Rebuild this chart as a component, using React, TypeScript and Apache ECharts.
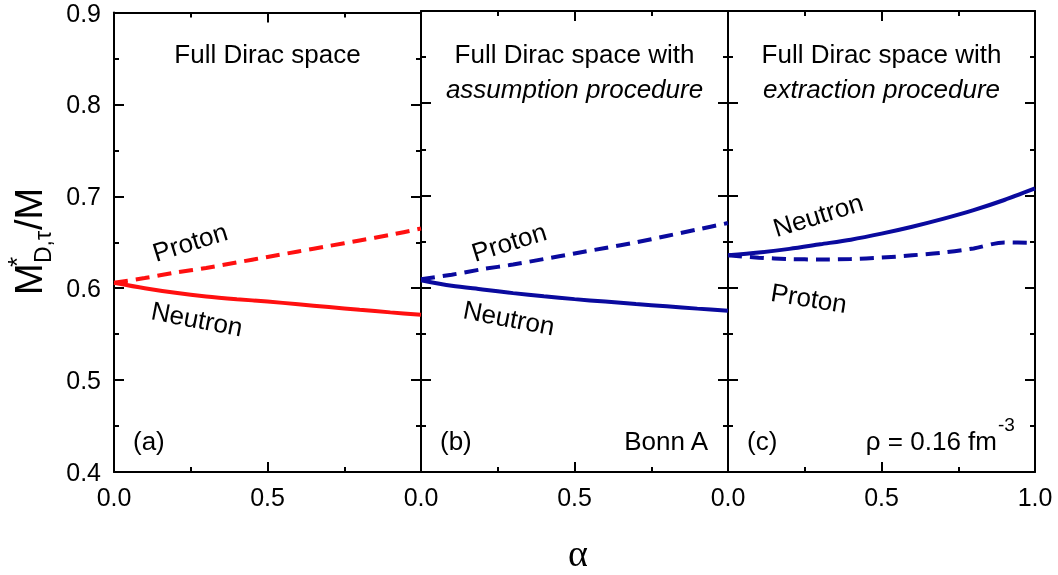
import React, { useEffect, useRef } from 'react';
import * as echarts from 'echarts';

// alpha (asymmetry parameter) sample points
const alpha = [0, 0.1, 0.2, 0.3, 0.4, 0.5, 0.6, 0.7, 0.8, 0.9, 1.0];

// (a) Full Dirac space
const protonA = [0.606, 0.611, 0.617, 0.622, 0.628, 0.634, 0.640, 0.646, 0.652, 0.658, 0.665];
const neutronA = [0.606, 0.600, 0.595, 0.591, 0.588, 0.5855, 0.5825, 0.5795, 0.5765, 0.5737, 0.571];
// (b) assumption procedure
const protonB = [0.609, 0.614, 0.620, 0.625, 0.631, 0.637, 0.643, 0.649, 0.656, 0.663, 0.670];
const neutronB = [0.608, 0.602, 0.598, 0.594, 0.5905, 0.5875, 0.5848, 0.5822, 0.5797, 0.5772, 0.5748];
// (c) extraction procedure
const protonC = [0.635, 0.6325, 0.631, 0.6305, 0.631, 0.6325, 0.635, 0.638, 0.6425, 0.649, 0.6485];
const neutronC = [0.635, 0.638, 0.642, 0.647, 0.652, 0.6585, 0.666, 0.6745, 0.684, 0.695, 0.7075];

const panelLabels = ['(a)', '(b)', '(c)'];
const titleLine1 = ['Full Dirac space', 'Full Dirac space with', 'Full Dirac space with'];
const titleLine2 = ['', 'assumption procedure', 'extraction procedure'];

const RED = '#ff1010';
const BLUE = '#0a0a9e';
const FONT = '"Liberation Sans", Arial, Helvetica, sans-serif';

const panels = [
  { proton: protonA, neutron: neutronA, color: RED },
  { proton: protonB, neutron: neutronB, color: BLUE },
  { proton: protonC, neutron: neutronC, color: BLUE },
];

const PANEL_LEFT = 114;
const PANEL_W = 307;
const TOP = 11;
const HEIGHT = 461;

export default function App() {
  const ref = useRef<HTMLDivElement>(null);

  useEffect(() => {
    if (!ref.current) return;
    const chart = echarts.init(ref.current, undefined, { renderer: 'svg' });

    const grids: any[] = [];
    const xAxes: any[] = [];
    const yAxes: any[] = [];
    const series: any[] = [];

    panels.forEach((p, i) => {
      grids.push({ left: PANEL_LEFT + i * PANEL_W, top: TOP, width: PANEL_W, height: HEIGHT });
      const mk = (pos: string, isX: boolean, label: any) => ({
        type: 'value', gridIndex: i, position: pos,
        min: isX ? 0 : 0.4, max: isX ? 1 : 0.9, interval: isX ? 0.5 : 0.1,
        axisLine: { show: true, onZero: false, lineStyle: { color: '#000', width: 2 } },
        axisTick: { show: true, inside: true, length: 10, lineStyle: { color: '#000', width: 2 } },
        minorTick: { show: true, splitNumber: 2, length: 5, lineStyle: { color: '#000', width: 2 } },
        splitLine: { show: false },
        axisLabel: label,
      });
      xAxes.push(mk('bottom', true, {
        show: true, margin: 12, fontSize: 25, color: '#000', fontFamily: FONT,
        formatter: (v: number) => (i < 2 && v === 1 ? '' : v.toFixed(1)),
      }));
      xAxes.push(mk('top', true, { show: false }));
      yAxes.push(mk('left', false, {
        show: i === 0, margin: 13, fontSize: 25, color: '#000', fontFamily: FONT,
        formatter: (v: number) => v.toFixed(1),
      }));
      yAxes.push(mk('right', false, { show: false }));
      series.push({
        type: 'line', name: 'Proton', xAxisIndex: i * 2, yAxisIndex: i * 2,
        data: alpha.map((a, k) => [a, p.proton[k]]), smooth: 0.3, symbol: 'none',
        lineStyle: { color: p.color, width: 4, type: [14, 8] },
      });
      series.push({
        type: 'line', name: 'Neutron', xAxisIndex: i * 2, yAxisIndex: i * 2,
        data: alpha.map((a, k) => [a, p.neutron[k]]), smooth: 0.3, symbol: 'none',
        lineStyle: { color: p.color, width: 4 },
      });
    });

    const txt = (x: number, y: number, text: string, o: any = {}) => ({
      type: 'text', x, y, rotation: o.rotation || 0,
      style: {
        text, fill: '#000', fontSize: o.fontSize || 26, fontFamily: o.fontFamily || FONT,
        fontStyle: o.fontStyle || 'normal',
        textAlign: o.align || 'center', textVerticalAlign: o.valign || 'middle',
      },
    });

    const graphic: any[] = [];
    panels.forEach((_, i) => {
      const cx = PANEL_LEFT + i * PANEL_W + PANEL_W / 2;
      graphic.push(txt(cx, 54, titleLine1[i]));
      if (titleLine2[i]) graphic.push(txt(cx, 89, titleLine2[i], { fontStyle: 'italic' }));
      graphic.push(txt(PANEL_LEFT + i * PANEL_W + 19, 441, panelLabels[i], { align: 'left' }));
    });
    graphic.push(txt(708, 441, 'Bonn A', { align: 'right' }));
    graphic.push(txt(997, 441, 'ρ = 0.16 fm', { align: 'right' }));
    graphic.push(txt(998, 424, '-3', { align: 'left', fontSize: 19 }));

    // curve labels
    graphic.push(txt(190, 242, 'Proton', { rotation: 0.30 }));
    graphic.push(txt(197, 319, 'Neutron', { rotation: -0.19 }));
    graphic.push(txt(509, 242, 'Proton', { rotation: 0.30 }));
    graphic.push(txt(509, 318, 'Neutron', { rotation: -0.19 }));
    graphic.push(txt(818, 215, 'Neutron', { rotation: 0.30 }));
    graphic.push(txt(809, 298, 'Proton', { rotation: -0.16 }));

    // axis titles
    graphic.push(txt(578, 553, 'α', { fontSize: 38, fontFamily: '"Liberation Serif", "DejaVu Serif", serif' }));
    graphic.push(txt(28.5, 295, 'M', { fontSize: 38, rotation: Math.PI / 2, align: 'left' }));
    graphic.push(txt(43, 263, 'D,τ', { fontSize: 23, rotation: Math.PI / 2, align: 'left' }));
    graphic.push(txt(17, 262, '*', { fontSize: 26, rotation: Math.PI / 2, align: 'center' }));
    graphic.push(txt(28.5, 230, '/M', { fontSize: 38, rotation: Math.PI / 2, align: 'left' }));

    chart.setOption({
      animation: false,
      grid: grids,
      xAxis: xAxes,
      yAxis: yAxes,
      series,
      graphic,
    });

    return () => chart.dispose();
  }, []);

  return (
    <div
      ref={ref}
      style={{ position: 'fixed', left: 0, top: 0, width: 1058, height: 575 }}
    />
  );
}
